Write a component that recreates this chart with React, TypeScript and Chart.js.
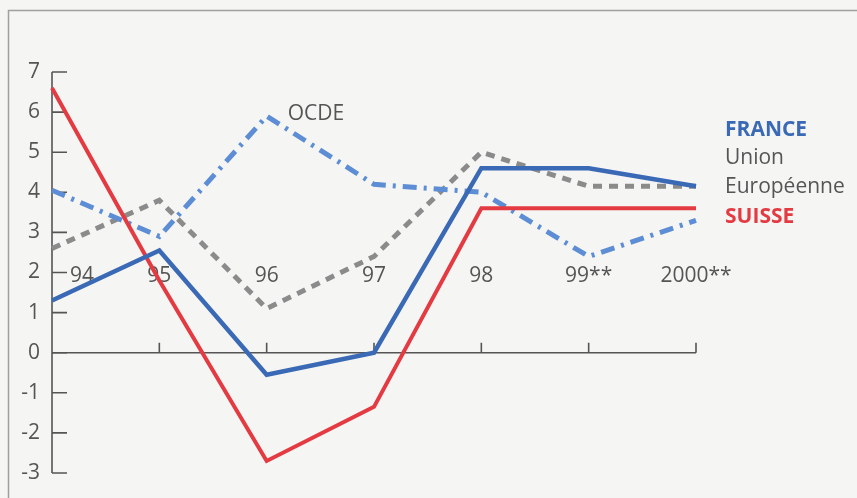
import React, { useEffect, useRef } from "react";
import { Chart, registerables } from "chart.js";

Chart.register(...registerables);

const categories = ["94", "95", "96", "97", "98", "99**", "2000**"];
const france = [1.3, 2.55, -0.55, 0, 4.6, 4.6, 4.15];
const suisse = [6.6, 1.8, -2.7, -1.35, 3.6, 3.6, 3.6];
const ocde = [4.05, 2.9, 5.9, 4.2, 4.0, 2.4, 3.3];
const unionEuropeenne = [2.6, 3.8, 1.1, 2.4, 5.0, 4.15, 4.15];
const yTicks = [7, 6, 5, 4, 3, 2, 1, 0, -1, -2, -3];

const FONT = "'Open Sans', 'Noto Sans', sans-serif";
const TEXT = "#555555";
const BLUE = "#3a69b5";
const RED = "#e43a42";
const LIGHTBLUE = "#5d8dd4";
const GREY = "#8b8b8b";
const BG = "#f5f5f3";

const decorPlugin = {
  id: "decor",
  beforeDraw(chart: any) {
    const ctx = chart.ctx;
    ctx.save();
    ctx.fillStyle = BG;
    ctx.fillRect(0, 0, chart.width, chart.height);
    ctx.strokeStyle = "#a0a0a0";
    ctx.lineWidth = 1.5;
    ctx.beginPath();
    ctx.moveTo(8.5, chart.height);
    ctx.lineTo(8.5, 10.5);
    ctx.lineTo(chart.width, 10.5);
    ctx.stroke();
    ctx.restore();
  },
  beforeDatasetsDraw(chart: any) {
    const ctx = chart.ctx;
    const x = chart.scales.x;
    const y = chart.scales.y;
    const left = chart.chartArea.left;
    ctx.save();
    ctx.strokeStyle = "#555555";
    ctx.lineWidth = 1.6;
    // y axis
    ctx.beginPath();
    ctx.moveTo(left, y.getPixelForValue(yTicks[0]));
    ctx.lineTo(left, y.getPixelForValue(yTicks[yTicks.length - 1]));
    yTicks.forEach((t) => {
      const py = y.getPixelForValue(t);
      ctx.moveTo(left, py);
      ctx.lineTo(left + 15, py);
    });
    ctx.stroke();
    // x axis at zero
    const y0 = y.getPixelForValue(0);
    ctx.beginPath();
    ctx.moveTo(left, y0);
    ctx.lineTo(x.getPixelForValue(categories.length - 1), y0);
    for (let i = 1; i < categories.length; i++) {
      const px = x.getPixelForValue(i);
      ctx.moveTo(px, y0);
      ctx.lineTo(px, y0 - 10);
    }
    ctx.stroke();

    ctx.fillStyle = TEXT;
    ctx.font = `21px ${FONT}`;
    ctx.textBaseline = "middle";
    ctx.textAlign = "right";
    yTicks.forEach((t) => {
      ctx.fillText(String(t), left - 12, y.getPixelForValue(t));
    });
    const ly = y.getPixelForValue(1.9);
    categories.forEach((c, i) => {
      if (i === 0) {
        ctx.textAlign = "left";
        ctx.fillText(c, x.getPixelForValue(i) + 18, ly);
      } else {
        ctx.textAlign = "center";
        ctx.fillText(c, x.getPixelForValue(i), ly);
      }
    });
    ctx.textAlign = "left";
    ctx.fillText("OCDE", x.getPixelForValue(2) + 21, y.getPixelForValue(5.95));

    const lx = chart.chartArea.right + 29;
    ctx.font = `bold 21px ${FONT}`;
    ctx.fillStyle = BLUE;
    ctx.fillText("FRANCE", lx, 130);
    ctx.font = `21px ${FONT}`;
    ctx.fillStyle = TEXT;
    ctx.fillText("Union", lx, 158);
    ctx.fillText("Européenne", lx, 187);
    ctx.font = `bold 21px ${FONT}`;
    ctx.fillStyle = RED;
    ctx.fillText("SUISSE", lx, 217);
    ctx.restore();
  },
};

export default function App() {
  const ref = useRef<HTMLCanvasElement | null>(null);
  useEffect(() => {
    if (!ref.current) return;
    const chart = new Chart(ref.current, {
      type: "line",
      data: {
        labels: categories,
        datasets: [
          {
            label: "FRANCE",
            data: france,
            borderColor: BLUE,
            borderWidth: 4.5,
            pointRadius: 0,
            tension: 0,
          },
          {
            label: "SUISSE",
            data: suisse,
            borderColor: RED,
            borderWidth: 4,
            pointRadius: 0,
            tension: 0,
          },
          {
            label: "OCDE",
            data: ocde,
            borderColor: LIGHTBLUE,
            borderWidth: 5,
            borderDash: [14, 7, 3, 7],
            pointRadius: 0,
            tension: 0,
          },
          {
            label: "Union Européenne",
            data: unionEuropeenne,
            borderColor: GREY,
            borderWidth: 5,
            borderDash: [9, 7],
            pointRadius: 0,
            tension: 0,
          },
        ],
      },
      options: {
        responsive: false,
        animation: false,
        devicePixelRatio: 1,
        layout: { padding: { left: 52, right: 161, top: 72, bottom: 25 } },
        plugins: { legend: { display: false }, tooltip: { enabled: false } },
        scales: {
          x: { type: "category", offset: false, display: false },
          y: { type: "linear", min: -3, max: 7, display: false },
        },
      },
      plugins: [decorPlugin],
    });
    return () => chart.destroy();
  }, []);
  return (
    <div style={{ position: "fixed", left: 0, top: 0, width: 857, height: 498, background: BG }}>
      <canvas ref={ref} width={857} height={498} style={{ display: "block" }} />
    </div>
  );
}
